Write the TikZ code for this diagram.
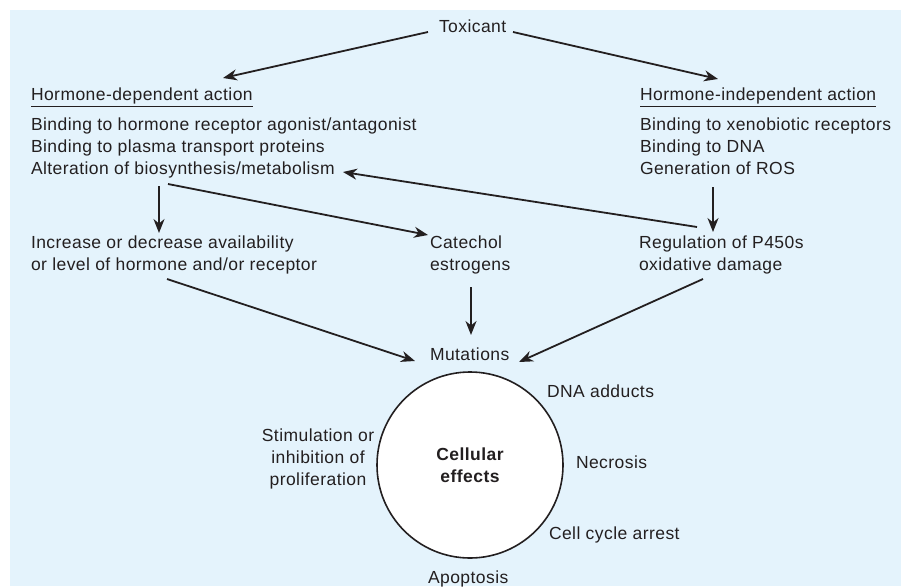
\documentclass[tikz,border=0pt]{standalone}
\usepackage{fontspec}
\setmainfont[LetterSpace=2.5]{Liberation Sans}
\usetikzlibrary{arrows.meta}
\definecolor{bgblue}{HTML}{E4F3FC}
\definecolor{ink}{HTML}{231F20}
\tikzset{
  txt/.style={inner sep=0pt, outer sep=0pt, font=\fontsize{17.5}{22}\selectfont, text=ink, align=left, anchor=base west},
  arr/.style={draw=ink, line width=1.8pt, -{Stealth[length=14pt,width=11pt,inset=4.5pt]}},
  uline/.style={draw=ink, line width=1pt}
}
\begin{document}
\begin{tikzpicture}[x=1pt,y=-1pt]
\useasboundingbox (0,0) rectangle (901,586);
\fill[bgblue] (10,10) rectangle (901,586);

% multi-line nodes: base anchor = baseline of the last line
\node[txt] (tox) at (439,33) {Toxicant};
\node[txt] (hd) at (31,100) {Hormone-dependent action};
\node[txt] (hdl) at (31,174) {Binding to hormone receptor agonist/antagonist\\Binding to plasma transport proteins\\Alteration of biosynthesis/metabolism};
\node[txt] (hi) at (640,100) {Hormone-independent action};
\node[txt] (hil) at (640,174) {Binding to xenobiotic receptors\\Binding to DNA\\Generation of ROS};
\node[txt] (inc) at (31,270) {Increase or decrease availability\\or level of hormone and/or receptor};
\node[txt] (cat) at (430,270) {Catechol\\estrogens};
\node[txt] (reg) at (639,270) {Regulation of P450s\\oxidative damage};
\node[txt] (mut) at (430,360) {Mutations};
\node[circle, draw=ink, fill=white, line width=1.6pt, minimum size=186pt, inner sep=0pt, align=center, text=ink,
      font=\fontsize{17.5}{22}\selectfont\bfseries] (cell) at (470,465) {Cellular\\effects};
\node[txt] (dna) at (547,397) {DNA adducts};
\node[txt] (nec) at (576,468) {Necrosis};
\node[txt] (cca) at (549,539) {Cell cycle arrest};
\node[txt] (apo) at (428,583) {Apoptosis};
\node[txt, align=center, anchor=base] (stim) at (318,485) {Stimulation or\\inhibition of\\proliferation};

\draw[uline] ([yshift=-6pt]hd.base west) -- ([yshift=-6pt]hd.base east);
\draw[uline] ([yshift=-6pt]hi.base west) -- ([yshift=-6pt]hi.base east);

\draw[arr] ([shift={(-11,-1)}]tox.base west) -- ([shift={(192,-22)}]hd.base west);
\draw[arr] ([shift={(74,-1)}]tox.base west) -- ([shift={(78,-21)}]hi.base west);
\draw[arr] ([shift={(128,12)}]hdl.base west) -- ([shift={(128,-37)}]inc.base west);
\draw[arr] ([shift={(137,10)}]hdl.base west) -- ([shift={(-2,-35)}]cat.base west);
\draw[arr] ([shift={(58,-43)}]reg.base west) -- ([shift={(312,-2)}]hdl.base west);
\draw[arr] ([shift={(73,13)}]hil.base west) -- ([shift={(74,-38)}]reg.base west);
\draw[arr] ([shift={(136,9)}]inc.base west) -- ([shift={(-15,1)}]mut.base west);
\draw[arr] ([shift={(41,17)}]cat.base west) -- ([shift={(41,-25)}]mut.base west);
\draw[arr] ([shift={(64,9)}]reg.base west) -- ([shift={(89,2)}]mut.base west);
\end{tikzpicture}
\end{document}
